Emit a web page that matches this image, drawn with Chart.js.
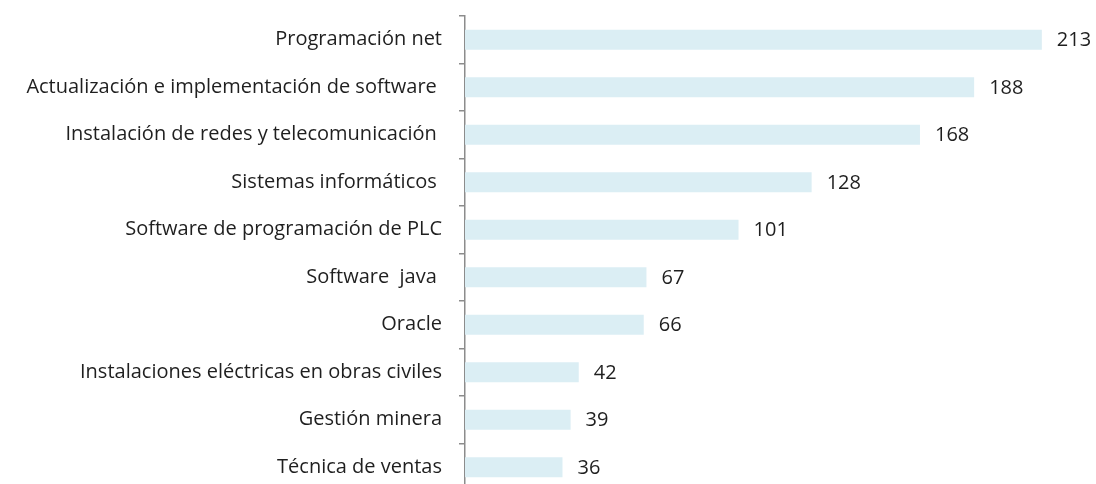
<!DOCTYPE html>
<html>
<head>
<meta charset="utf-8">
<script src="https://cdn.jsdelivr.net/npm/chart.js@4.4.0/dist/chart.umd.min.js"></script>
<style>
  html, body { margin: 0; padding: 0; background: #fff; overflow: hidden; }
  #wrap { position: relative; width: 1096px; height: 491px; }
</style>
</head>
<body>
<div id="wrap"><canvas id="barChart"></canvas></div>
<script>
// categories and values
const categories = [
    'Programación net',
    'Actualización e implementación de software ',
    'Instalación de redes y telecomunicación ',
    'Sistemas informáticos ',
    'Software de programación de PLC',
    'Software  java ',
    'Oracle',
    'Instalaciones eléctricas en obras civiles',
    'Gestión minera',
    'Técnica de ventas'
];
const values = [213, 188, 168, 128, 101, 67, 66, 42, 39, 36];
const xMax = 233;

const FONT = "'Open Sans', sans-serif";

// writes the value a bit right of each bar end
const valueLabels = {
    id: 'valueLabels',
    afterDatasetsDraw(chart) {
        const ctx = chart.ctx;
        const meta = chart.getDatasetMeta(0);
        ctx.save();
        ctx.font = '20px ' + FONT;
        ctx.fillStyle = '#1f1f1f';
        ctx.textAlign = 'left';
        ctx.textBaseline = 'middle';
        meta.data.forEach(function (bar, i) {
            ctx.fillText(String(values[i]), bar.x + 15, bar.y + 1);
        });
        ctx.restore();
    }
};

new Chart(document.getElementById('barChart'), {
    type: 'bar',
    data: {
        labels: categories,
        datasets: [{
            data: values,
            backgroundColor: '#dbeef4',
            borderWidth: 0,
            categoryPercentage: 1,
            barPercentage: 0.42
        }]
    },
    options: {
        indexAxis: 'y',
        responsive: true,
        maintainAspectRatio: false,
        animation: false,
        layout: { padding: { top: 16, right: 0, bottom: 0, left: 0 } },
        plugins: {
            legend: { display: false },
            tooltip: { enabled: false }
        },
        scales: {
            x: {
                display: false,
                min: 0,
                max: xMax
            },
            y: {
                grid: {
                    drawOnChartArea: false,
                    drawTicks: true,
                    tickLength: 6,
                    color: '#8c8c8c',
                    lineWidth: 1.5
                },
                border: { color: '#8c8c8c', width: 1.5 },
                ticks: {
                    padding: 17,
                    color: '#1f1f1f',
                    font: { family: FONT, size: 20 }
                },
                afterFit(scale) {
                    scale.width = 465;
                    scale.paddingTop = 0;
                    scale.paddingBottom = 0;
                }
            }
        }
    },
    plugins: [valueLabels]
});
</script>
</body>
</html>
